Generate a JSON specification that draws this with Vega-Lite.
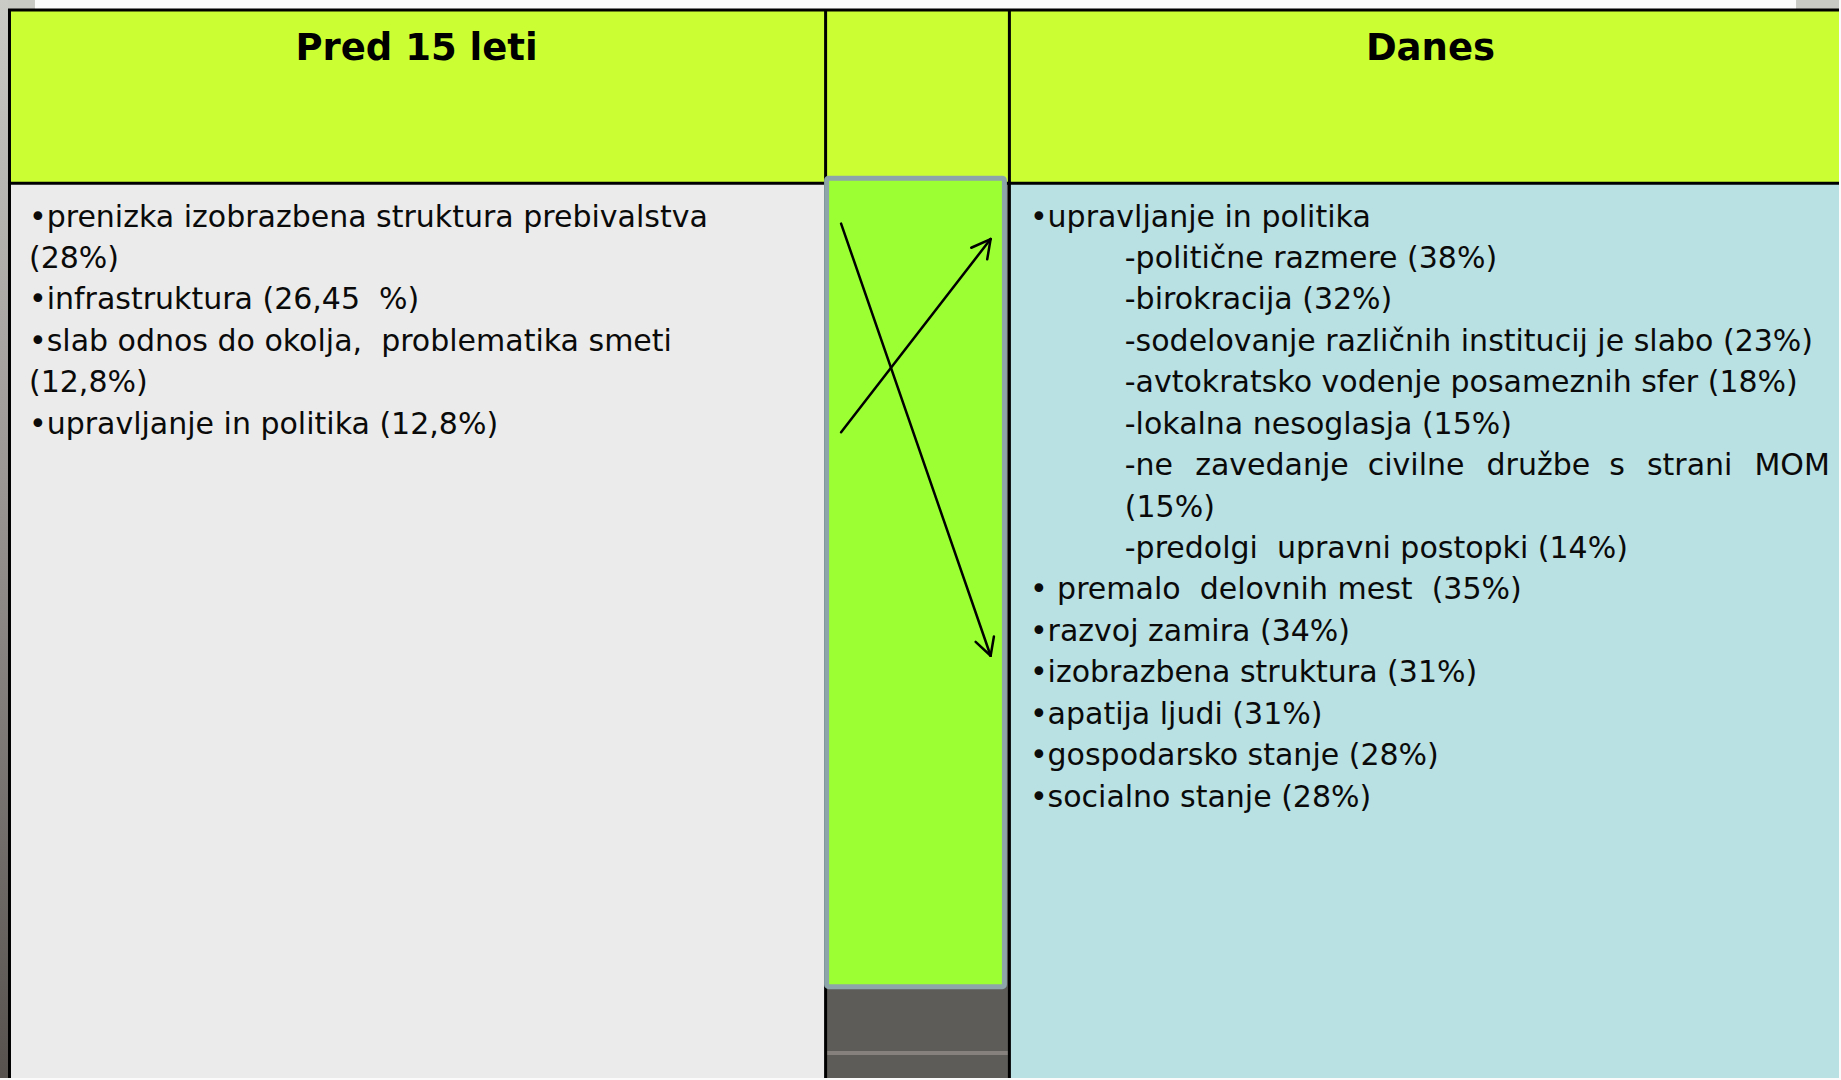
{
  "$schema": "https://vega.github.io/schema/vega-lite/v6.json",
  "autosize": {"type": "fit", "contains": "padding"},
  "width": 1841,
  "height": 1080,
  "padding": 0,
  "background": "#FBFBFB",
  "config": {"view": {"stroke": null}},
  "datasets": {
    "cells": [
      {"part": "header", "x": 8, "x2": 1841, "y": 10, "y2": 183},
      {"part": "left", "x": 8, "x2": 826, "y": 183, "y2": 1080},
      {"part": "dark", "x": 826, "x2": 1010, "y": 183, "y2": 1080},
      {"part": "hl", "x": 828, "x2": 1009, "y": 1053, "y2": 1057},
      {"part": "right", "x": 1010, "x2": 1841, "y": 183, "y2": 1080},
      {"part": "corner", "x": 0, "x2": 35, "y": 0, "y2": 10},
      {"part": "corner", "x": 1798, "x2": 1841, "y": 0, "y2": 10}
    ],
    "strip": [{"x": 0, "x2": 8, "y": 0, "y2": 1080}],
    "borders": [
      {"x": 8, "x2": 1841, "y": 10, "y2": 10},
      {"x": 9.5, "x2": 9.5, "y": 9, "y2": 1080},
      {"x": 8, "x2": 1841, "y": 183.5, "y2": 183.5},
      {"x": 826.5, "x2": 826.5, "y": 10, "y2": 1080},
      {"x": 1010.5, "x2": 1010.5, "y": 10, "y2": 1080}
    ],
    "box": [{"x": 827.5, "x2": 1005.5, "y": 178.5, "y2": 988.5}],
    "arrows": [
      {"x": 842, "y": 224, "x2": 991.7, "y2": 657},
      {"x": 976.7, "y": 643, "x2": 991.7, "y2": 657},
      {"x": 995, "y": 637.7, "x2": 991.7, "y2": 657},
      {"x": 842, "y": 433, "x2": 991.7, "y2": 239.5},
      {"x": 972.3, "y": 248.2, "x2": 991.7, "y2": 239.5},
      {"x": 988.3, "y": 259.8, "x2": 991.7, "y2": 239.5}
    ],
    "headers": [
      {"label": "Pred 15 leti", "x": 417, "y": 60},
      {"label": "Danes", "x": 1432, "y": 60}
    ],
    "items": [
      {"text": "•prenizka izobrazbena struktura prebivalstva", "x": 29, "y": 227},
      {"text": "(28%)", "x": 29, "y": 268.5},
      {"text": "•infrastruktura (26,45\u00a0\u00a0%)", "x": 29, "y": 310},
      {"text": "•slab odnos do okolja,\u00a0\u00a0problematika smeti", "x": 29, "y": 351.5},
      {"text": "(12,8%)", "x": 29, "y": 393},
      {"text": "•upravljanje in politika (12,8%)", "x": 29, "y": 434.5},
      {"text": "•upravljanje in politika", "x": 1031, "y": 227},
      {"text": "-politične razmere (38%)", "x": 1126, "y": 268.5},
      {"text": "-birokracija (32%)", "x": 1126, "y": 310},
      {"text": "-sodelovanje različnih institucij je slabo (23%)", "x": 1126, "y": 351.5},
      {"text": "-avtokratsko vodenje posameznih sfer (18%)", "x": 1126, "y": 393},
      {"text": "-lokalna nesoglasja (15%)", "x": 1126, "y": 434.5},
      {"text": "-ne\u00a0\u00a0\u200azavedanje\u00a0\u00a0civilne\u00a0\u00a0\u200adružbe\u00a0\u00a0s\u00a0\u00a0\u200astrani\u00a0\u00a0\u200aMOM", "x": 1126, "y": 476},
      {"text": "(15%)", "x": 1126, "y": 517.5},
      {"text": "-predolgi\u00a0\u00a0upravni postopki (14%)", "x": 1126, "y": 559},
      {"text": "•\u00a0premalo\u00a0\u00a0delovnih mest\u00a0\u00a0(35%)", "x": 1031, "y": 600.5},
      {"text": "•razvoj zamira (34%)", "x": 1031, "y": 642},
      {"text": "•izobrazbena struktura (31%)", "x": 1031, "y": 683.5},
      {"text": "•apatija ljudi (31%)", "x": 1031, "y": 725},
      {"text": "•gospodarsko stanje (28%)", "x": 1031, "y": 766.5},
      {"text": "•socialno stanje (28%)", "x": 1031, "y": 808}
    ]
  },
  "layer": [
    {
      "data": {"name": "cells"},
      "mark": {"type": "rect", "strokeWidth": 0},
      "encoding": {
        "x": {"field": "x", "type": "quantitative", "scale": {"domain": [0, 1841], "nice": false, "zero": false}, "axis": null},
        "x2": {"field": "x2"},
        "y": {"field": "y", "type": "quantitative", "scale": {"domain": [0, 1080], "nice": false, "zero": false, "reverse": true}, "axis": null},
        "y2": {"field": "y2"},
        "color": {"field": "part", "type": "nominal", "legend": null,
          "scale": {"domain": ["header", "left", "dark", "hl", "right", "corner"],
                    "range": ["#CCFF33", "#EBEBEB", "#5E5C59", "#86817D", "#B9E0E3", "#C8C8C4"]}}
      }
    },
    {
      "data": {"name": "strip"},
      "mark": {"type": "rect", "strokeWidth": 0,
        "fill": {"gradient": "linear", "x1": 0, "y1": 0, "x2": 0, "y2": 1,
          "stops": [{"offset": 0, "color": "#CACAC6"}, {"offset": 0.45, "color": "#9A9694"}, {"offset": 1, "color": "#57524E"}]}},
      "encoding": {
        "x": {"field": "x", "type": "quantitative", "scale": {"domain": [0, 1841], "nice": false, "zero": false}, "axis": null},
        "x2": {"field": "x2"},
        "y": {"field": "y", "type": "quantitative", "scale": {"domain": [0, 1080], "nice": false, "zero": false, "reverse": true}, "axis": null},
        "y2": {"field": "y2"}
      }
    },
    {
      "data": {"name": "borders"},
      "mark": {"type": "rule", "color": "#000000", "strokeWidth": 3},
      "encoding": {
        "x": {"field": "x", "type": "quantitative", "scale": {"domain": [0, 1841], "nice": false, "zero": false}, "axis": null},
        "x2": {"field": "x2"},
        "y": {"field": "y", "type": "quantitative", "scale": {"domain": [0, 1080], "nice": false, "zero": false, "reverse": true}, "axis": null},
        "y2": {"field": "y2"}
      }
    },
    {
      "data": {"name": "box"},
      "mark": {"type": "rect", "fill": "#9CFF33", "stroke": "#8DA5A9", "strokeWidth": 5, "cornerRadius": 2},
      "encoding": {
        "x": {"field": "x", "type": "quantitative", "scale": {"domain": [0, 1841], "nice": false, "zero": false}, "axis": null},
        "x2": {"field": "x2"},
        "y": {"field": "y", "type": "quantitative", "scale": {"domain": [0, 1080], "nice": false, "zero": false, "reverse": true}, "axis": null},
        "y2": {"field": "y2"}
      }
    },
    {
      "data": {"name": "arrows"},
      "mark": {"type": "rule", "color": "#000000", "strokeWidth": 2.5, "strokeCap": "round"},
      "encoding": {
        "x": {"field": "x", "type": "quantitative", "scale": {"domain": [0, 1841], "nice": false, "zero": false}, "axis": null},
        "x2": {"field": "x2"},
        "y": {"field": "y", "type": "quantitative", "scale": {"domain": [0, 1080], "nice": false, "zero": false, "reverse": true}, "axis": null},
        "y2": {"field": "y2"}
      }
    },
    {
      "data": {"name": "headers"},
      "mark": {"type": "text", "font": "DejaVu Sans", "fontSize": 37, "fontWeight": "bold", "align": "center", "baseline": "alphabetic", "color": "#000000"},
      "encoding": {
        "x": {"field": "x", "type": "quantitative", "scale": {"domain": [0, 1841], "nice": false, "zero": false}, "axis": null},
        "y": {"field": "y", "type": "quantitative", "scale": {"domain": [0, 1080], "nice": false, "zero": false, "reverse": true}, "axis": null},
        "text": {"field": "label"}
      }
    },
    {
      "data": {"name": "items"},
      "mark": {"type": "text", "font": "DejaVu Sans", "fontSize": 30, "align": "left", "baseline": "alphabetic", "color": "#0A0A0A"},
      "encoding": {
        "x": {"field": "x", "type": "quantitative", "scale": {"domain": [0, 1841], "nice": false, "zero": false}, "axis": null},
        "y": {"field": "y", "type": "quantitative", "scale": {"domain": [0, 1080], "nice": false, "zero": false, "reverse": true}, "axis": null},
        "text": {"field": "text"}
      }
    }
  ]
}
